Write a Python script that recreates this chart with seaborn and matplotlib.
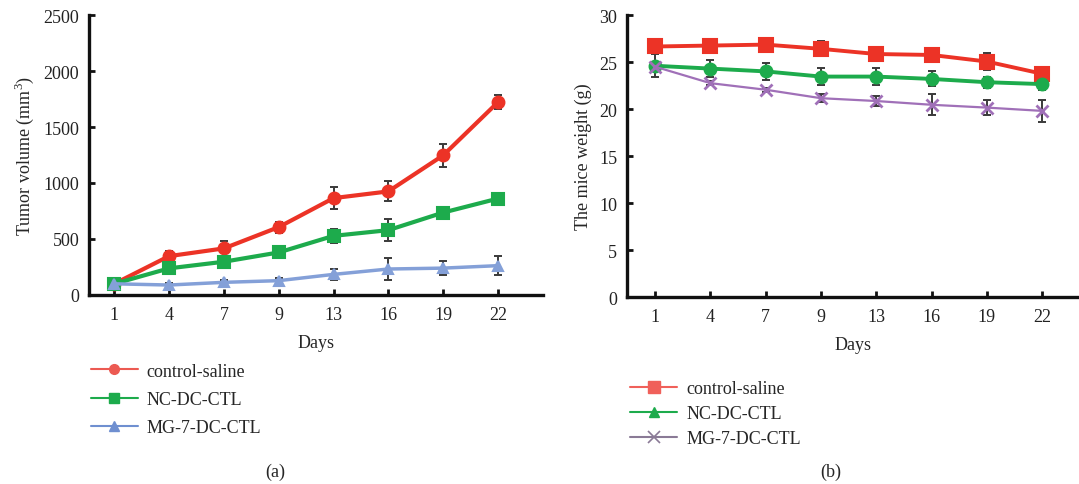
import numpy as np
import pandas as pd
import matplotlib
matplotlib.use("Agg")
import matplotlib.pyplot as plt
import seaborn as sns
from matplotlib.lines import Line2D

days = ["1", "4", "7", "9", "13", "16", "19", "22"]
groups = ["control-saline", "NC-DC-CTL", "MG-7-DC-CTL"]

# Panel (a): tumor volume (mm^3)
vol_control = [100, 347, 416, 606, 865, 925, 1247, 1722]
vol_nc = [100, 238, 297, 380, 528, 579, 736, 861]
vol_mg7 = [100, 89, 113, 128, 184, 232, 240, 262]
vol_control_err = [30, 50, 70, 50, 95, 90, 105, 60]
vol_nc_err = [20, 30, 30, 30, 60, 100, 30, 50]
vol_mg7_err = [20, 20, 25, 25, 50, 95, 60, 85]

# Panel (b): mice weight (g)
wt_control = [26.65, 26.75, 26.85, 26.4, 25.85, 25.75, 25.05, 23.75]
wt_nc = [24.6, 24.3, 24.0, 23.45, 23.45, 23.2, 22.85, 22.65]
wt_mg7 = [24.5, 22.75, 22.05, 21.15, 20.85, 20.45, 20.15, 19.8]
wt_control_err = [0.5, 0.3, 0.3, 0.8, 0.3, 0.3, 0.9, 0.4]
wt_nc_err = [1.2, 0.9, 0.9, 0.9, 0.9, 0.8, 0.6, 0.6]
wt_mg7_err = [0.2, 0.2, 0.2, 0.4, 0.5, 1.1, 0.8, 1.2]

sns.set_theme(style="white")
plt.rcParams["font.family"] = ["Liberation Serif", "DejaVu Serif"]
plt.rcParams["mathtext.fontset"] = "custom"
plt.rcParams["mathtext.rm"] = "Liberation Serif"

FS = 13

fig = plt.figure(figsize=(10.79, 4.85), dpi=100)
ax1 = fig.add_axes([0.0825, 0.3897, 0.4207, 0.5773])
ax2 = fig.add_axes([0.5810, 0.3855, 0.4182, 0.5815])

pos = np.arange(len(days))


def panel(ax, series, errs, colors, markers, msizes, lws, ecolor):
    rows = []
    for g, vals in zip(groups, series):
        for p, v in zip(pos, vals):
            rows.append({"pos": p, "val": v, "group": g})
    df = pd.DataFrame(rows)
    for vals, e in zip(series, errs):
        ax.errorbar(pos, vals, yerr=e, fmt="none", ecolor=ecolor, elinewidth=1.4,
                    capsize=3, capthick=1.4, zorder=3)
    for g, c, m, ms, lw in zip(groups, colors, markers, msizes, lws):
        sns.lineplot(data=df[df.group == g], x="pos", y="val", ax=ax, color=c,
                     marker=m, markersize=ms, linewidth=lw, markeredgecolor=c,
                     markeredgewidth=1.5 if m != "x" else 2, legend=False, zorder=4)


panel(ax1, [vol_control, vol_nc, vol_mg7],
      [vol_control_err, vol_nc_err, vol_mg7_err],
      ["#ec3326", "#1dab4c", "#84a0d8"], ["o", "s", "^"], [8.5, 8, 7], [3, 3, 2.5],
      "#3a3a3a")
panel(ax2, [wt_control, wt_nc, wt_mg7],
      [wt_control_err, wt_nc_err, wt_mg7_err],
      ["#ec3326", "#1dab4c", "#a070b8"], ["s", "o", "x"], [9.5, 8.5, 8], [2.8, 2.8, 1.6],
      "#3a3a3a")

for ax, ylim, yticks, ylabel, xlim in [
    (ax1, (0, 2500), np.arange(0, 2501, 500), "Tumor volume (mm$^3$)", (-0.46, 7.82)),
    (ax2, (0, 30), np.arange(0, 31, 5), "The mice weight (g)", (-0.51, 7.65)),
]:
    ax.set_xlim(*xlim)
    ax.set_ylim(*ylim)
    ax.set_yticks(yticks)
    ax.set_xticks(pos)
    ax.set_xticklabels(days)
    ax.set_xlabel("Days", fontsize=FS, labelpad=8)
    ax.set_ylabel(ylabel, fontsize=FS, labelpad=5)
    for s in ["top", "right"]:
        ax.spines[s].set_visible(False)
    for s in ["left", "bottom"]:
        ax.spines[s].set_linewidth(2.4)
        ax.spines[s].set_color("#111111")
    ax.tick_params(axis="both", direction="in", length=4, width=2, colors="#111111",
                   labelsize=FS, labelcolor="#222222", pad=8, left=True, bottom=True)
    ax.tick_params(axis="y", pad=7)
    ax.grid(False)

# legends
h1 = [Line2D([], [], color="#ec5a52", marker="o", markersize=7, lw=1.5),
      Line2D([], [], color="#1dab4c", marker="s", markersize=7, lw=1.5),
      Line2D([], [], color="#6f8fd0", marker="^", markersize=7, lw=1.5)]
fig.legend(h1, groups, loc="upper left", bbox_to_anchor=(0.084, 0.250), frameon=False,
           fontsize=FS, handlelength=2.6, handletextpad=0.5, labelspacing=0.62,
           borderpad=0, borderaxespad=0)
h2 = [Line2D([], [], color="#f0605a", marker="s", markersize=8, lw=1.5),
      Line2D([], [], color="#1dab4c", marker="^", markersize=7, lw=1.5),
      Line2D([], [], color="#8a7a96", marker="x", markersize=8, mew=1.2, lw=1.5)]
fig.legend(h2, groups, loc="upper left", bbox_to_anchor=(0.584, 0.214), frameon=False,
           fontsize=FS, handlelength=2.6, handletextpad=0.5, labelspacing=0.45,
           borderpad=0, borderaxespad=0)

fig.text(275 / 1079, 1 - 472 / 485, "(a)", ha="center", va="center", fontsize=FS)
fig.text(831 / 1079, 1 - 472 / 485, "(b)", ha="center", va="center", fontsize=FS)

fig.savefig("out.png", dpi=100, facecolor="white")
